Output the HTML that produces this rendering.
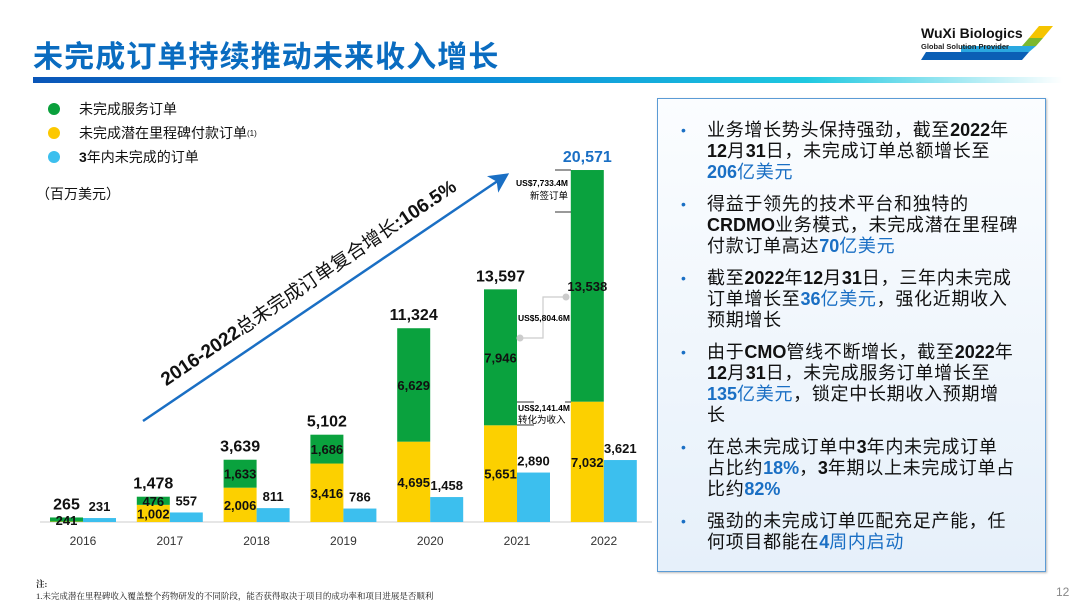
<!DOCTYPE html>
<html><head><meta charset="utf-8"><style>
*{margin:0;padding:0;box-sizing:border-box}
body{width:1080px;height:608px;background:#fff;position:relative;overflow:hidden;font-family:"Liberation Sans","Noto Sans CJK SC",sans-serif;color:#111}
.abs{position:absolute}
.title{left:33px;top:32px;font-size:30px;font-weight:bold;color:#0a6cc0;letter-spacing:1.1px}
.bar{left:33px;top:77px;width:1030px;height:6px;background:linear-gradient(90deg,#0a56b8,#0a8fd8 45%,#1ec8e0 75%,#fff 100%)}
.leg{left:48px;font-size:14px;display:flex;align-items:center}
.leg i{display:inline-block;width:12px;height:12px;border-radius:50%;margin-right:19px}
.panel{left:657px;top:98px;width:389px;height:474px;border:1.5px solid #5b9bd5;background:linear-gradient(180deg,#fbfdff,#e6f0fa);box-shadow:1px 1px 2px #bbb}
.panel ul{list-style:none;padding:21px 20px 0 49px;font-size:18px;line-height:21px;letter-spacing:0.7px}
.panel b{letter-spacing:0}
.panel li{position:relative;margin-bottom:11px}
.panel li:before{content:"•";position:absolute;left:-26px;color:#1a6fc4;font-size:14px}
.b{color:#1a6fc4}
</style></head><body>
<div class="abs title">未完成订单持续推动未来收入增长</div>
<div class="abs bar"></div>
<div class="abs" style="left:921px;top:24px;width:132px;height:38px">
<svg width="132" height="38"><polygon points="118,2 132,2 122,14 108,14" fill="#f5c400"/><polygon points="108,14 122,14 115,22 101,22" fill="#7cb82f"/><polygon points="40,22 115,22 108,28 40,28" fill="#2aa8e0"/><polygon points="5,28 108,28 101,36 0,36" fill="#0b5fb5"/>
<text x="0" y="14" font-size="14" font-weight="bold" fill="#111" font-family="Liberation Sans">WuXi Biologics</text>
<text x="0" y="25" font-size="7.5" font-weight="bold" fill="#222" font-family="Liberation Sans">Global Solution Provider</text></svg></div>
<div class="abs leg" style="top:99px"><i style="background:#0aa03c"></i>未完成服务订单</div>
<div class="abs leg" style="top:123px"><i style="background:#fcc800"></i>未完成潜在里程碑付款订单<sup style="font-size:8px">(1)</sup></div>
<div class="abs leg" style="top:147px"><i style="background:#3cbfee"></i><b>3</b>年内未完成的订单</div>
<div class="abs" style="left:36px;top:184px;font-size:14px">（百万美元）</div>
<svg class="abs" style="left:0;top:0" width="660" height="560" id="chart">
<defs><marker id="ah" markerWidth="8" markerHeight="8" refX="6" refY="4" orient="auto"><path d="M0,0 L8,4 L0,8 L2,4z" fill="#1a6fc4"/></marker></defs>
<line x1="143" y1="421" x2="505" y2="176" stroke="#1a6fc4" stroke-width="2.5" marker-end="url(#ah)"/>
<text transform="translate(312,288) rotate(-34)" text-anchor="middle" font-size="19" fill="#111" font-family="Liberation Sans,Noto Sans CJK SC"><tspan font-weight="bold">2016-2022</tspan>总未完成订单复合增长<tspan font-weight="bold">:106.5%</tspan></text>
<line x1="40" y1="522" x2="652" y2="522" stroke="#e6e6e6" stroke-width="2"/>
<g id="marks"></g>
<g stroke="#333" stroke-width="1"><line x1="555" y1="170" x2="571" y2="170"/><line x1="555" y1="212" x2="571" y2="212"/><line x1="517" y1="402" x2="534" y2="402"/><line x1="517" y1="425" x2="534" y2="425"/><line x1="565" y1="402" x2="571" y2="402"/></g>
<text x="568" y="186" text-anchor="end" font-size="8.5" font-weight="bold" font-family="Liberation Sans">US$7,733.4M</text>
<text x="568" y="199" text-anchor="end" font-size="9.5" font-family="Noto Sans CJK SC">新签订单</text>
<polyline points="520,338 543,338 543,297 566,297" fill="none" stroke="#ccc" stroke-width="1.2"/>
<circle cx="520" cy="338" r="3.5" fill="#ccc"/><circle cx="566" cy="297" r="3.5" fill="#ccc"/>
<text x="518" y="321" font-size="8.5" font-weight="bold" font-family="Liberation Sans">US$5,804.6M</text>
<text x="518" y="411" font-size="8.5" font-weight="bold" font-family="Liberation Sans">US$2,141.4M</text>
<text x="518" y="423" font-size="9.5" font-family="Noto Sans CJK SC">转化为收入</text>
</svg>
<script>
const years=["2016","2017","2018","2019","2020","2021","2022"];
const milestone=[24,1002,2006,3416,4695,5651,7032];
const service=[241,476,1633,1686,6629,7946,13538];
const threeYr=[231,557,811,786,1458,2890,3621];
const totals=["265","1,478","3,639","5,102","11,324","13,597","20,571"];
const svgNS="http://www.w3.org/2000/svg";
const g=document.getElementById('marks');
const base=522,k=352/20571,x0=50,step=86.8,bw=33;
const y=v=>base-v*k;
function rect(x,yy,w,h,fill,name){const r=document.createElementNS(svgNS,'rect');r.setAttribute('x',x);r.setAttribute('y',yy);r.setAttribute('width',w);r.setAttribute('height',Math.max(h,0));r.setAttribute('fill',fill);


g.appendChild(r);}
function txt(x,yy,s,size,bold,fill,name){const t=document.createElementNS(svgNS,'text');t.setAttribute('x',x);t.setAttribute('y',yy);t.setAttribute('text-anchor','middle');t.setAttribute('font-size',size);if(bold)t.setAttribute('font-weight','bold');t.setAttribute('fill',fill||'#111');t.setAttribute('font-family','Liberation Sans');t.textContent=s;


g.appendChild(t);}
const fmt=v=>v.toLocaleString('en-US');
years.forEach((yr,i)=>{
 const x=x0+i*step;
 const m=milestone[i],s=service[i],c=threeYr[i];
 rect(x,y(m),bw,m*k,'#fcd000','bar-milestone-'+yr);
 rect(x,y(m+s),bw,s*k,'#0aa23e','bar-service-'+yr);
 rect(x+bw,y(c),bw,c*k,'#3cbfee','bar-3yr-'+yr);
 if(i>0) txt(x+bw/2,y(m/2)+5,fmt(m),13,true,'#111','label-milestone-'+yr);
 if(i===0) txt(x+bw/2,y(0)+3,fmt(s),13,true,'#111','label-service-'+yr);
 else txt(x+bw/2,y(m+s/2)+5,fmt(s),13,true,'#111','label-service-'+yr);
 txt(x+bw*1.5,y(c)-7,fmt(c),13,true,'#111','label-3yr-'+yr);
 txt(x+bw/2,y(m+s)-8,totals[i],16,true,i===6?'#1a6fc4':'#111','label-total-'+yr);
 txt(x+bw,545,yr,12,false,'#333','x-tick-'+yr);
});
</script>
<div class="abs panel"><ul>
<li>业务增长势头保持强劲，截至<b>2022</b>年<br><b>12</b>月<b>31</b>日，未完成订单总额增长至<br><b class="b">206</b><span class="b">亿美元</span></li>
<li>得益于领先的技术平台和独特的<br><b>CRDMO</b>业务模式，未完成潜在里程碑<br>付款订单高达<b class="b">70</b><span class="b">亿美元</span></li>
<li>截至<b>2022</b>年<b>12</b>月<b>31</b>日，三年内未完成<br>订单增长至<b class="b">36</b><span class="b">亿美元</span>，强化近期收入<br>预期增长</li>
<li>由于<b>CMO</b>管线不断增长，截至<b>2022</b>年<br><b>12</b>月<b>31</b>日，未完成服务订单增长至<br><b class="b">135</b><span class="b">亿美元</span>，锁定中长期收入预期增<br>长</li>
<li>在总未完成订单中<b>3</b>年内未完成订单<br>占比约<b class="b">18%</b>，<b>3</b>年期以上未完成订单占<br>比约<b class="b">82%</b></li>
<li>强劲的未完成订单匹配充足产能，任<br>何项目都能在<b class="b">4</b><span class="b">周内启动</span></li>
</ul></div>
<div class="abs" style="left:36px;top:578px;font-size:8.5px;line-height:12px;font-family:'Liberation Serif','Noto Serif CJK SC',serif"><b>注:</b><br>1.未完成潜在里程碑收入覆盖整个药物研发的不同阶段，能否获得取决于项目的成功率和项目进展是否顺利</div>
<div class="abs" style="left:1056px;top:585px;font-size:12px;color:#888">12</div>
</body></html>
